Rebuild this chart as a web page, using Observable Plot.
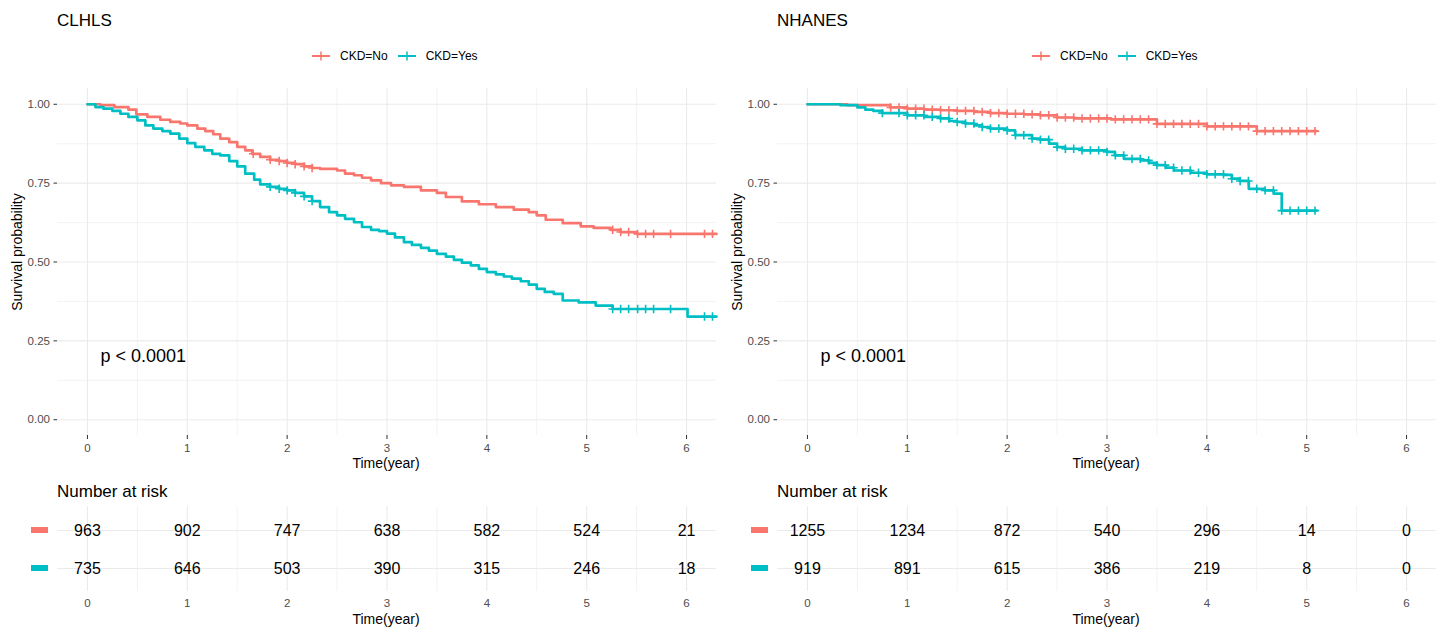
<!DOCTYPE html>
<html><head><meta charset="utf-8">
<script src="https://cdn.jsdelivr.net/npm/d3@7"></script>
<script src="https://cdn.jsdelivr.net/npm/@observablehq/plot@0.6"></script>
<style>
body{margin:0;background:#fff;font-family:"Liberation Sans",Arial,Helvetica,sans-serif;}
#root{position:relative;width:1440px;height:627px;overflow:hidden;background:#fff;}
.panel{position:absolute;top:0;width:720px;height:627px;}
.abs{position:absolute;white-space:nowrap;line-height:1;}
.ctr{transform:translate(-50%,-50%);}
svg.plot{position:absolute;left:0;}
</style></head><body><div id="root"></div>
<script>
// ---------- data ----------
const panelTitles = ["CLHLS", "NHANES"];
const strata = ["No", "Yes"];
const legendLabels = ["CKD=No", "CKD=Yes"];
const colors = ["#F8766D", "#00BFC4"];
const xMajorTicks = [0, 1, 2, 3, 4, 5, 6];
const xMinorTicks = [0.5, 1.5, 2.5, 3.5, 4.5, 5.5];
const yMajorTicks = [0, 0.25, 0.5, 0.75, 1];
const yMinorTicks = [0.125, 0.375, 0.625, 0.875];
const xDomain = [-0.3, 6.3];
const yDomain = [-0.05, 1.05];
const xLabel = "Time(year)";
const yLabel = "Survival probability";
const riskTitle = "Number at risk";
const pvalText = "p < 0.0001";
const pvalX = 0.13;
const pvalY = 0.2;
const riskTimes = [0, 1, 2, 3, 4, 5, 6];

// CLHLS, CKD=No
const clhlsNoTime = [0,0.13,0.27,0.41,0.49,0.60,0.73,0.83,0.93,1.00,1.10,1.18,1.26,1.33,1.42,1.50,1.58,1.65,1.73,1.83,1.92,2.00,2.08,2.17,2.25,2.33,2.50,2.58,2.67,2.75,2.84,2.94,3.04,3.17,3.34,3.50,3.59,3.75,3.92,4.09,4.27,4.42,4.50,4.59,4.76,4.94,5.07,5.24,5.34,5.50];
const clhlsNoSurv = [1,0.997,0.991,0.983,0.968,0.960,0.951,0.944,0.939,0.933,0.923,0.915,0.905,0.891,0.880,0.865,0.854,0.843,0.833,0.824,0.820,0.814,0.810,0.803,0.798,0.795,0.790,0.780,0.775,0.767,0.759,0.750,0.743,0.738,0.727,0.719,0.706,0.692,0.683,0.674,0.666,0.658,0.648,0.634,0.623,0.613,0.608,0.602,0.595,0.589];
const clhlsNoCensor = [1.66,1.83,1.92,2.00,2.08,2.17,2.25,5.26,5.34,5.42,5.51,5.59,5.67,5.84,6.18,6.26];
const clhlsNoEnd = 6.3;
// CLHLS, CKD=Yes
const clhlsYesTime = [0,0.08,0.16,0.25,0.33,0.41,0.50,0.58,0.66,0.75,0.83,0.92,1.00,1.08,1.17,1.25,1.33,1.42,1.50,1.58,1.67,1.73,1.83,1.92,2.00,2.08,2.17,2.25,2.33,2.42,2.50,2.58,2.67,2.75,2.84,2.92,3.00,3.08,3.17,3.25,3.34,3.42,3.50,3.59,3.67,3.75,3.84,3.92,4.00,4.09,4.17,4.25,4.34,4.42,4.50,4.58,4.67,4.76,4.92,5.09,5.26,6.01];
const clhlsYesSurv = [1,0.991,0.986,0.979,0.970,0.960,0.949,0.933,0.923,0.915,0.907,0.891,0.877,0.865,0.854,0.843,0.838,0.820,0.803,0.780,0.761,0.746,0.738,0.732,0.727,0.719,0.708,0.693,0.674,0.658,0.648,0.637,0.626,0.611,0.602,0.598,0.590,0.578,0.563,0.554,0.545,0.536,0.526,0.517,0.507,0.498,0.489,0.478,0.468,0.461,0.454,0.447,0.439,0.428,0.415,0.405,0.399,0.378,0.372,0.362,0.351,0.327];
const clhlsYesCensor = [1.83,1.92,2.00,2.08,2.17,2.25,5.26,5.34,5.42,5.51,5.59,5.67,5.84,6.18,6.26];
const clhlsYesEnd = 6.3;
// NHANES, CKD=No
const nhanesNoTime = [0,0.40,0.83,1.00,1.17,1.33,1.50,1.67,1.83,2.00,2.17,2.33,2.50,2.67,3.04,3.50,4.00,4.50];
const nhanesNoSurv = [1,0.997,0.990,0.986,0.983,0.981,0.979,0.976,0.972,0.970,0.968,0.965,0.958,0.955,0.952,0.938,0.930,0.915];
const nhanesNoCensorMonths = [10,11,12,13,14,15,16,17,18,19,20,21,22,23,24,25,26,27,28,29,30,31,32,33,34,35,36,37,38,39,40,41,42,43,44,45,46,47,48,49,50,51,52,53,54,55,56,57,58,59,60,61];
const nhanesNoEnd = 5.1;
// NHANES, CKD=Yes
const nhanesYesTime = [0,0.33,0.50,0.58,0.66,0.75,1.00,1.17,1.33,1.42,1.50,1.58,1.67,1.75,1.83,2.00,2.08,2.25,2.33,2.42,2.50,2.58,2.75,3.00,3.08,3.17,3.34,3.42,3.50,3.59,3.67,3.84,4.00,4.17,4.25,4.33,4.42,4.58,4.67,4.75];
const nhanesYesSurv = [1,0.997,0.990,0.983,0.979,0.972,0.965,0.960,0.955,0.947,0.944,0.939,0.933,0.928,0.923,0.917,0.902,0.891,0.888,0.875,0.864,0.859,0.854,0.849,0.838,0.827,0.822,0.814,0.807,0.799,0.790,0.783,0.778,0.776,0.764,0.757,0.732,0.727,0.717,0.663];
const nhanesYesCensorMonths = [9,11,12,13,14,15,16,17,18,19,20,21,22,23,24,25,26,27,28,29,30,31,32,33,34,35,36,37,38,39,40,41,42,43,44,45,46,47,48,49,50,51,52,53,54,55,56,57,58,59,60,61];
const nhanesYesEnd = 5.1;

// Numbers at risk
const clhlsRiskNo = [963, 902, 747, 638, 582, 524, 21];
const clhlsRiskYes = [735, 646, 503, 390, 315, 246, 18];
const nhanesRiskNo = [1255, 1234, 872, 540, 296, 14, 0];
const nhanesRiskYes = [919, 891, 615, 386, 219, 8, 0];

// ---------- build ----------
const FONT = '"Liberation Sans", Arial, Helvetica, sans-serif';
const root = document.getElementById("root");
const crossSymbol = {
  draw(ctx, size) {
    const r = Math.sqrt(size / Math.PI);
    ctx.moveTo(-r, 0); ctx.lineTo(r, 0);
    ctx.moveTo(0, -r); ctx.lineTo(0, r);
  }
};
function stepValue(times, survs, t) {
  let v = survs[0];
  for (let i = 0; i < times.length; i++) if (times[i] <= t + 1e-9) v = survs[i];
  return v;
}
function addText(parent, txt, css, cls) {
  const d = document.createElement("div");
  d.className = "abs " + (cls || "");
  d.textContent = txt;
  Object.assign(d.style, css);
  parent.appendChild(d);
  return d;
}

const panels = [
  {
    title: panelTitles[0],
    series: [
      {s: strata[0], time: clhlsNoTime, surv: clhlsNoSurv, end: clhlsNoEnd, censor: clhlsNoCensor},
      {s: strata[1], time: clhlsYesTime, surv: clhlsYesSurv, end: clhlsYesEnd, censor: clhlsYesCensor}
    ],
    risk: [clhlsRiskNo, clhlsRiskYes]
  },
  {
    title: panelTitles[1],
    series: [
      {s: strata[0], time: nhanesNoTime, surv: nhanesNoSurv, end: nhanesNoEnd, censor: nhanesNoCensorMonths.map(m => m / 12)},
      {s: strata[1], time: nhanesYesTime, surv: nhanesYesSurv, end: nhanesYesEnd, censor: nhanesYesCensorMonths.map(m => m / 12)}
    ],
    risk: [nhanesRiskNo, nhanesRiskYes]
  }
];

const gridStyle = {stroke: "#EBEBEB", strokeOpacity: 1};

panels.forEach((p, pi) => {
  const panel = document.createElement("div");
  panel.className = "panel";
  panel.style.left = (pi * 720) + "px";
  root.appendChild(panel);

  // title
  addText(panel, p.title, {left: "57px", top: "12px", fontSize: "17px", color: "#000"});

  // legend
  const leg = document.createElement("div");
  leg.className = "abs";
  Object.assign(leg.style, {left: "311px", top: "50px", display: "flex", alignItems: "center", fontSize: "12px", color: "#000"});
  strata.forEach((s, i) => {
    const key = document.createElementNS("http://www.w3.org/2000/svg", "svg");
    key.setAttribute("width", 20); key.setAttribute("height", 12);
    key.innerHTML = `<line x1="1" x2="19" y1="6" y2="6" stroke="${colors[i]}" stroke-width="2"/>` +
      `<line x1="10" x2="10" y1="1.5" y2="10.5" stroke="${colors[i]}" stroke-width="1.5"/>`;
    key.style.marginRight = "9px";
    key.style.marginLeft = i ? "9px" : "0";
    leg.appendChild(key);
    const sp = document.createElement("span");
    sp.textContent = legendLabels[i];
    leg.appendChild(sp);
  });
  panel.appendChild(leg);

  // survival data
  const lineData = [];
  const censorData = [];
  p.series.forEach(se => {
    se.time.forEach((t, i) => lineData.push({t, v: se.surv[i], s: se.s}));
    lineData.push({t: se.end, v: se.surv[se.surv.length - 1], s: se.s});
    se.censor.forEach(t => censorData.push({t, v: stepValue(se.time, se.surv, t), s: se.s}));
  });

  const main = Plot.plot({
    width: 720, height: 400,
    marginLeft: 57, marginRight: 4, marginTop: 8, marginBottom: 45,
    x: {domain: xDomain},
    y: {domain: yDomain},
    color: {domain: strata, range: colors},
    style: {fontFamily: FONT, fontSize: "11.5px", color: "#4D4D4D", background: "transparent", overflow: "visible"},
    marks: [
      Plot.gridX(xMinorTicks, {...gridStyle, strokeWidth: 0.6}),
      Plot.gridY(yMinorTicks, {...gridStyle, strokeWidth: 0.6}),
      Plot.gridX(xMajorTicks, {...gridStyle, strokeWidth: 1.1}),
      Plot.gridY(yMajorTicks, {...gridStyle, strokeWidth: 1.1}),
      Plot.axisX(xMajorTicks, {tickSize: 4, tickPadding: 4, label: null, tickFormat: d => String(d), stroke: "#333", fill: "#4D4D4D"}),
      Plot.axisY(yMajorTicks, {tickSize: 3.5, tickPadding: 4, label: null, tickFormat: d3.format(".2f"), stroke: "#333", fill: "#4D4D4D"}),
      Plot.line(lineData, {x: "t", y: "v", z: "s", stroke: "s", curve: "step-after", strokeWidth: 2.7}),
      Plot.dot(censorData, {x: "t", y: "v", stroke: "s", fill: "none", symbol: crossSymbol, r: 4.2, strokeWidth: 1.6}),
      Plot.text([pvalText], {x: pvalX, y: pvalY, text: d => d, textAnchor: "start", fontSize: 18, fill: "#000"})
    ]
  });
  main.classList.add("plot");
  main.style.top = "80px";
  panel.appendChild(main);

  // axis titles
  addText(panel, yLabel, {left: "17px", top: "252px", fontSize: "14px", color: "#000", transform: "translate(-50%,-50%) rotate(-90deg)"});
  addText(panel, xLabel, {left: "386px", top: "463px", fontSize: "14px", color: "#000"}, "ctr");

  // risk table
  addText(panel, riskTitle, {left: "57px", top: "483px", fontSize: "17px", color: "#000"});
  const riskData = [];
  p.risk.forEach((arr, si) => arr.forEach((n, i) => riskData.push({t: riskTimes[i], s: strata[si], n})));
  const table = Plot.plot({
    width: 720, height: 127,
    marginLeft: 57, marginRight: 4, marginTop: 6, marginBottom: 36,
    x: {domain: xDomain},
    y: {type: "point", domain: strata, padding: 0.6, axis: null},
    style: {fontFamily: FONT, fontSize: "11.5px", color: "#4D4D4D", background: "transparent", overflow: "visible"},
    marks: [
      Plot.gridX(xMinorTicks, {...gridStyle, strokeWidth: 0.6}),
      Plot.gridX(xMajorTicks, {...gridStyle, strokeWidth: 1.1}),
      Plot.gridY(strata, {...gridStyle, strokeWidth: 1.1}),
      Plot.axisX(xMajorTicks, {tickSize: 0, tickPadding: 7, label: null, tickFormat: d => String(d), fill: "#4D4D4D"}),
      Plot.text(riskData, {x: "t", y: "s", text: d => String(d.n), fontSize: 16, fill: "#000"})
    ]
  });
  table.classList.add("plot");
  table.style.top = "500px";
  panel.appendChild(table);
  const yS = table.scale("y");
  strata.forEach((s, i) => {
    const sw = document.createElement("div");
    sw.className = "abs";
    Object.assign(sw.style, {left: "31px", width: "17px", height: "6px", background: colors[i], top: (500 + yS.apply(s) - 3) + "px"});
    panel.appendChild(sw);
  });
  addText(panel, xLabel, {left: "386px", top: "619px", fontSize: "14px", color: "#000"}, "ctr");
});
</script>
</body></html>
